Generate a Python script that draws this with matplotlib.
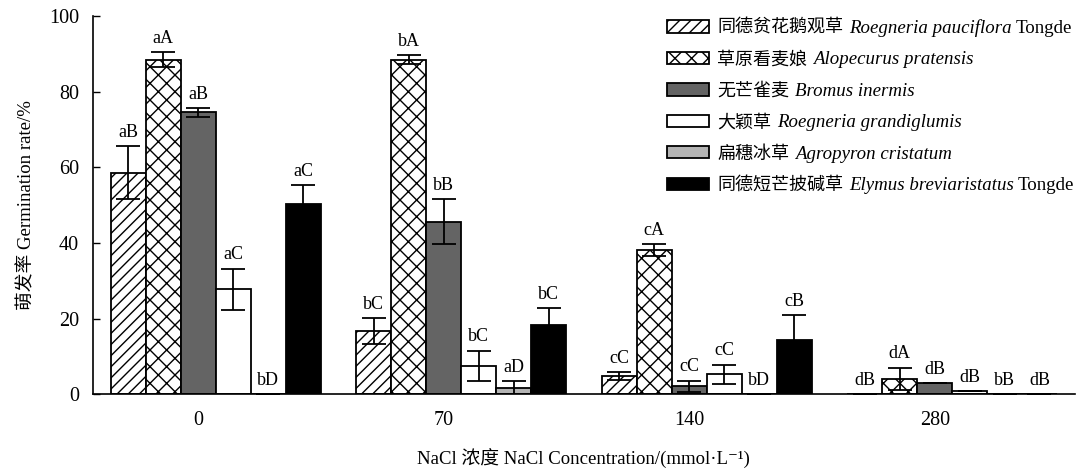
import numpy as np
import matplotlib
matplotlib.use("Agg")
import matplotlib.pyplot as plt

fonts = ['Liberation Serif', 'Noto Sans CJK SC', 'DejaVu Serif']
plt.rcParams['font.family'] = fonts
plt.rcParams['hatch.linewidth'] = 1.0

# data
concentrations = ['0', '70', '140', '280']
names_cn = ['同德贫花鹅观草', '草原看麦娘', '无芒雀麦', '大颖草', '扁穗冰草', '同德短芒披碱草']
names_latin = ['Roegneria pauciflora', 'Alopecurus pratensis', 'Bromus inermis',
               'Roegneria grandiglumis', 'Agropyron cristatum', 'Elymus breviaristatus']
names_suffix = ['Tongde', '', '', '', '', 'Tongde']
means = [
    [58.5, 16.7, 4.8, 0.0],
    [88.5, 88.5, 38.1, 4.0],
    [74.5, 45.6, 2.1, 2.9],
    [27.7, 7.5, 5.3, 0.8],
    [0.0, 1.5, 0.0, 0.0],
    [50.3, 18.2, 14.4, 0.0],
]
errors = [
    [7.0, 3.4, 1.0, 0.0],
    [2.0, 1.2, 1.6, 3.0],
    [1.1, 6.0, 1.5, 0.0],
    [5.5, 4.0, 2.5, 0.0],
    [0.0, 2.0, 0.0, 0.0],
    [5.0, 4.5, 6.4, 0.0],
]
letters = [
    ['aB', 'bC', 'cC', 'dB'],
    ['aA', 'bA', 'cA', 'dA'],
    ['aB', 'bB', 'cC', 'dB'],
    ['aC', 'bC', 'cC', 'dB'],
    ['bD', 'aD', 'bD', 'bB'],
    ['aC', 'bC', 'cB', 'dB'],
]

colors = ['white', 'white', '#646464', 'white', '#b4b4b4', 'black']
hatches = ['///', 'xx', None, None, None, None]

fig, ax = plt.subplots(figsize=(10.78, 4.72), dpi=100)
fig.subplots_adjust(left=0.0863, right=0.997, top=0.966, bottom=0.165)

x = np.arange(len(concentrations))
w = 0.1425
for i in range(len(names_cn)):
    pos = x + (i - 2.5) * w
    ax.bar(pos, means[i], w, color=colors[i], edgecolor='black', linewidth=1.3,
           hatch=hatches[i], label=names_cn[i], zorder=2)
    ax.errorbar(pos, means[i], yerr=errors[i], fmt='none', ecolor='black',
                elinewidth=1.3, capsize=8.3, capthick=1.3, zorder=3)
    for j in range(len(concentrations)):
        ax.text(pos[j], means[i][j] + errors[i][j] + 1.4, letters[i][j],
                ha='center', va='bottom', fontsize=13)

ax.set_xlim(-0.5, 3.5)
ax.set_ylim(0, 100)
ax.set_xticks(x - 0.07)
ax.set_xticklabels(concentrations)
ax.tick_params(axis='x', length=0, labelsize=14.5, pad=12)
ax.set_yticks(np.arange(0, 101, 20))
ax.tick_params(axis='y', direction='in', length=5, labelsize=14.5, width=1, pad=10)
ax.spines['top'].set_visible(False)
ax.spines['right'].set_visible(False)
ax.spines['left'].set_linewidth(1.2)
ax.spines['bottom'].set_linewidth(1.2)

ax.set_ylabel('萌发率 Germination rate/%', fontsize=13.5, labelpad=10)
ax.set_xlabel('NaCl 浓度 NaCl Concentration/(mmol·L⁻¹)', fontsize=13.5, labelpad=14)

leg = ax.legend(loc='upper left', bbox_to_anchor=(0.5845, 0.99), frameon=False,
                fontsize=13, handlelength=2.33, handleheight=0.67, labelspacing=0.8,
                handletextpad=0.45, borderpad=0, borderaxespad=0)

# italic latin names after the chinese names in the legend
fig.canvas.draw()
renderer = fig.canvas.get_renderer()
W, H = fig.get_size_inches() * fig.dpi
for t, lat, suf in zip(leg.get_texts(), names_latin, names_suffix):
    bb = t.get_window_extent(renderer)
    t2 = fig.text((bb.x1 + 6) / W, bb.y0 / H, lat, fontsize=13.6, style='italic',
                  va='bottom', ha='left')
    if suf:
        bb2 = t2.get_window_extent(renderer)
        fig.text((bb2.x1 + 4) / W, bb.y0 / H, suf, fontsize=13.6, va='bottom', ha='left')

fig.savefig('out.png', dpi=100)
